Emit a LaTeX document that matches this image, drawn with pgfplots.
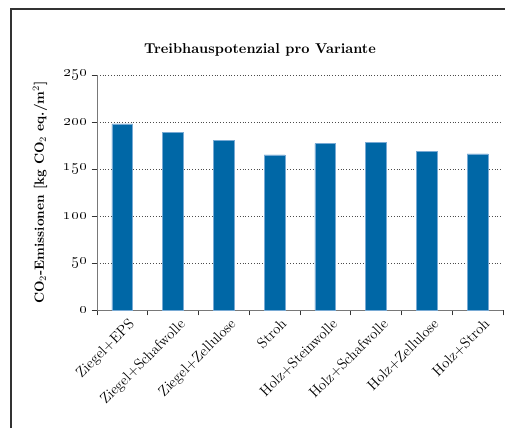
\documentclass[border=0pt]{standalone}
\usepackage{pgfplots}
\pgfplotsset{compat=1.18}
\definecolor{barblue}{RGB}{0,103,166}
\definecolor{baredge}{RGB}{120,170,212}
\definecolor{axisgray}{RGB}{120,120,120}
\definecolor{framegray}{RGB}{50,50,50}

\begin{document}
\begin{tikzpicture}
% page size 505x428 px, 1 px = 0.75pt
\useasboundingbox (0,0) rectangle (378.75pt,-321pt);
\draw[framegray, line width=0.8pt] (8.25pt,-321pt) -- (8.25pt,-6.75pt) -- (378.75pt,-6.75pt);
\node[anchor=base, font=\bfseries\fontsize{10.7}{12}\selectfont] at (195pt,-39.75pt)
  {Treibhauspotenzial pro Variante};

\begin{axis}[
    at={(72.75pt,-232.5pt)},
    anchor=south west,
    scale only axis,
    width=304.5pt,
    height=176.25pt,
    ybar,
    bar width=0.41,
    xmin=-0.5, xmax=7.5,
    ymin=0, ymax=250,
    enlargelimits=false,
    axis x line=bottom,
    axis y line=left,
    axis line style={-, axisgray, line width=0.7pt},
    tick align=outside,
    major tick length=4pt,
    tick style={black!80, line width=0.6pt},
    ytick={0,50,100,150,200,250},
    yticklabels={\oldstylenums{0},\oldstylenums{50},\oldstylenums{100},
                 \oldstylenums{150},\oldstylenums{200},\oldstylenums{250}},
    yticklabel style={font=\fontsize{11.5}{13}\selectfont, text=black},
    xtick={-0.5,0.5,...,7.5},
    x tick label as interval,
    xticklabels={Ziegel+EPS, Ziegel+Schafwolle, Ziegel+Zellulose, Stroh,
                 Holz+Steinwolle, Holz+Schafwolle, Holz+Zellulose, Holz+Stroh},
    xticklabel style={xshift=4pt, rotate=45, anchor=north east,
                      font=\fontsize{11}{13}\selectfont, text=black, inner sep=1pt},
    ymajorgrids,
    major grid style={dash pattern=on 0.8pt off 1.3pt, black!70, line width=0.5pt},
    ylabel={CO$_2$-Emissionen [kg CO$_2$ eq./m$^2$]},
    ylabel style={at={(rel axis cs:0,0.5)}, yshift=42.75pt, anchor=center,
                  font=\bfseries\fontsize{10}{12}\selectfont},
]
\addplot[fill=barblue, draw=baredge, line width=0.5pt] coordinates {
    (0,198)
    (1,189)
    (2,180.5)
    (3,165)
    (4,177)
    (5,178)
    (6,169)
    (7,166)
};
\end{axis}
\end{tikzpicture}
\end{document}
